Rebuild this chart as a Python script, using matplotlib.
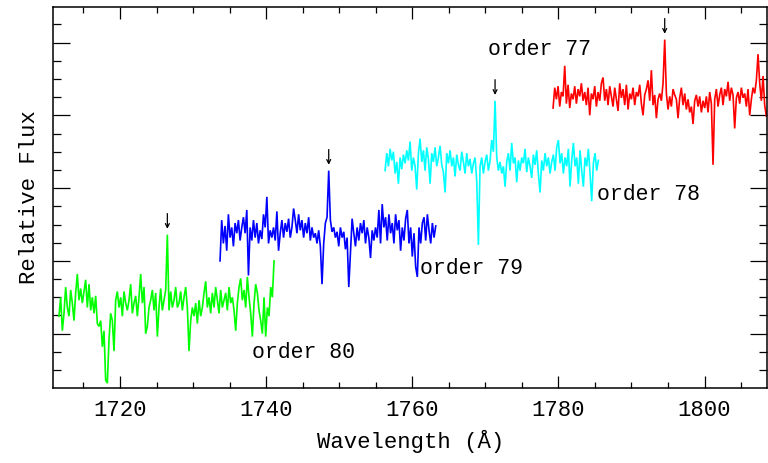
import numpy as np
import matplotlib
matplotlib.use("Agg")
import matplotlib.pyplot as plt
from matplotlib.ticker import MultipleLocator, NullFormatter

# ---------------- data ----------------
orders = ["order 80", "order 79", "order 78", "order 77"]
colors = ["#00ff00", "#0000ff", "#00ffff", "#ff0000"]

# wavelength range of each echelle order (Angstrom)
wl_start = [1711.65, 1733.69, 1756.28, 1779.27]
wl_end = [1741.08, 1763.21, 1785.47, 1808.69]

# vertical display offset of each order
offsets = [0.23, 0.71, 1.18, 1.63]

flux_80 = [0.89, 1.02, 0.79, 0.91, 1.09, 0.95, 0.89, 1.07, 0.98, 0.86,
           1.05, 1.18, 1.00, 1.08, 0.98, 1.06, 1.14, 0.95, 1.11, 0.93,
           1.02, 0.91, 1.03, 0.84, 0.82, 0.86, 0.68, 0.79, 0.45, 0.43,
           0.73, 0.91, 0.86, 0.65, 1.00, 1.06, 0.95, 1.02, 0.89, 1.06,
           0.98, 0.93, 1.00, 1.11, 0.91, 0.98, 1.03, 0.89, 1.02, 1.18,
           0.98, 1.09, 0.77, 0.82, 0.95, 1.00, 1.07, 0.93, 1.05, 0.75,
           0.95, 1.08, 0.93, 1.00, 1.07, 1.45, 0.93, 1.06, 0.95, 1.00,
           1.09, 0.95, 0.98, 1.06, 0.93, 1.02, 1.09, 0.95, 0.65, 0.86,
           0.95, 0.89, 0.98, 0.84, 1.00, 0.89, 0.95, 1.05, 1.13, 0.95,
           1.02, 0.91, 1.05, 0.95, 1.09, 1.00, 0.91, 1.07, 0.95, 1.00,
           1.05, 0.93, 1.09, 0.98, 1.02, 0.93, 0.79, 0.98, 1.09, 1.15,
           1.00, 1.07, 0.95, 1.16, 1.02, 0.91, 0.75, 0.98, 1.11, 1.05,
           0.93, 0.86, 0.77, 1.02, 0.75, 0.95, 0.89, 1.09, 1.02, 1.27]

flux_79 = [0.79, 1.07, 0.91, 1.03, 0.86, 1.11, 0.95, 1.02, 0.89, 1.05,
           0.98, 1.07, 0.93, 1.02, 1.09, 0.98, 1.14, 0.69, 1.02, 0.93,
           1.07, 0.95, 1.05, 0.91, 1.00, 0.94, 1.11, 1.02, 1.23, 0.91,
           1.00, 0.95, 1.02, 0.93, 1.13, 0.86, 0.98, 1.07, 0.95, 1.05,
           0.99, 1.08, 0.95, 1.02, 1.15, 1.07, 0.98, 1.11, 1.00, 1.07,
           0.95, 1.05, 0.98, 1.09, 0.93, 1.02, 0.95, 0.98, 0.91, 1.00,
           0.89, 0.63, 0.91, 1.05, 1.09, 1.41, 1.07, 0.99, 1.02, 0.95,
           0.99, 0.89, 1.02, 0.95, 0.99, 0.87, 0.95, 0.61, 0.84, 1.08,
           0.98, 0.89, 1.02, 0.93, 1.05, 0.98, 1.07, 0.91, 1.02, 0.95,
           0.81, 1.00, 0.93, 1.02, 0.95, 1.14, 0.91, 1.18, 1.02, 1.09,
           0.93, 1.11, 0.98, 1.05, 0.91, 1.11, 1.00, 1.07, 0.86, 1.02,
           0.93, 1.08, 1.14, 0.91, 1.02, 0.82, 0.98, 0.75, 0.68, 1.02,
           0.91, 1.05, 1.09, 0.93, 1.11, 1.00, 0.91, 1.05, 0.95, 1.03]

flux_78 = [0.94, 1.06, 0.97, 1.09, 1.01, 1.07, 0.92, 1.00, 0.85, 1.03,
           0.95, 1.05, 0.99, 1.08, 1.01, 1.14, 0.94, 1.03, 0.97, 0.81,
           1.06, 1.16, 1.00, 1.08, 0.94, 1.10, 1.02, 0.85, 1.06, 1.00,
           1.10, 0.97, 1.03, 1.11, 0.98, 0.93, 0.79, 1.06, 0.99, 1.08,
           0.97, 1.03, 0.90, 1.05, 0.98, 0.94, 1.07, 1.00, 0.92, 1.06,
           0.97, 1.02, 0.92, 0.99, 1.03, 0.87, 0.43, 0.97, 1.03, 0.92,
           1.00, 1.05, 0.94, 1.01, 1.15, 1.07, 1.42, 1.03, 0.94, 1.00,
           0.92, 0.97, 0.83, 1.00, 1.06, 0.94, 1.13, 0.99, 1.03, 0.86,
           1.01, 0.94, 1.03, 0.99, 1.09, 0.93, 1.03, 0.97, 0.89, 1.05,
           0.98, 1.08, 0.92, 0.79, 1.01, 0.94, 1.06, 0.97, 1.03, 0.92,
           1.00, 1.05, 0.94, 1.10, 1.15, 0.99, 1.06, 0.92, 1.03, 0.97,
           1.09, 0.83, 1.01, 1.13, 0.97, 1.03, 0.85, 1.08, 0.94, 0.83,
           1.03, 0.97, 1.09, 0.92, 0.73, 0.99, 1.06, 0.94, 1.01]

flux_77 = [0.92, 1.06, 0.98, 1.07, 0.93, 1.03, 1.00, 1.21, 0.95, 1.08,
           0.92, 1.02, 0.98, 1.07, 0.95, 1.05, 1.00, 1.09, 0.97, 1.03,
           0.94, 1.06, 0.87, 1.02, 0.98, 1.07, 0.93, 1.03, 0.97, 1.09,
           1.13, 0.97, 1.05, 0.94, 1.07, 1.00, 0.93, 1.06, 0.98, 0.90,
           1.09, 0.99, 1.05, 0.94, 1.08, 0.91, 1.02, 0.98, 1.06, 0.94,
           1.03, 1.00, 1.08, 0.95, 0.87, 1.01, 1.05, 1.11, 0.97, 1.18,
           0.94, 1.01, 0.85, 0.98, 1.02, 0.97, 1.09, 1.39, 1.02, 0.91,
           1.00, 0.93, 1.05, 1.01, 0.98, 0.85, 0.99, 1.06, 0.94, 1.02,
           0.91, 0.98, 0.89, 0.93, 0.81, 0.97, 1.01, 0.93, 1.00, 0.89,
           0.97, 0.92, 1.00, 0.89, 1.03, 0.95, 0.53, 0.98, 1.05, 0.93,
           1.01, 1.06, 0.94, 1.05, 1.00, 1.10, 0.97, 1.06, 1.01, 0.78,
           0.99, 1.03, 0.95, 1.06, 0.99, 1.02, 0.93, 1.05, 0.87, 0.98,
           1.06, 1.02, 1.11, 1.29, 1.09, 0.97, 1.14, 0.94, 0.86, 0.92]

fluxes = [flux_80, flux_79, flux_78, flux_77]

# emission features marked with arrows (wavelength of each marked peak)
arrow_wl = [1726.4, 1748.6, 1771.3, 1794.6]

# label anchor positions (wavelength, plotted flux)
label_x = [1738.1, 1761.1, 1785.3, 1770.4]
label_y = [0.874, 1.451, 1.953, 2.955]

xlim = (1710.87, 1808.55)
ylim = (0.627, 3.246)

# ---------------- figure ----------------
fig = plt.figure(figsize=(7.68, 4.63), dpi=100)
ax = fig.add_axes([0.0694, 0.162, 0.9293, 0.8235])

font = ["Liberation Mono", "DejaVu Sans Mono"]

for wl0, wl1, fl, off, col in zip(wl_start, wl_end, fluxes, offsets, colors):
    fl = np.asarray(fl)
    wl = np.linspace(wl0, wl1, len(fl))
    ax.plot(wl, fl + off, color=col, lw=1.2, solid_joinstyle="miter")

# arrows above the marked peaks
for k, (aw, fl, off, wl0, wl1) in enumerate(zip(arrow_wl, fluxes, offsets, wl_start, wl_end)):
    fl = np.asarray(fl)
    wl = np.linspace(wl0, wl1, len(fl))
    i = np.argmin(np.abs(wl - aw))
    peak = fl[max(i - 1, 0):i + 2].max() + off
    ax.annotate("", xy=(wl[i], peak + 0.04), xytext=(wl[i], peak + 0.145),
                arrowprops=dict(arrowstyle="->", color="black", lw=0.9,
                                mutation_scale=7, shrinkA=0, shrinkB=0))

for name, lx, ly in zip(orders, label_x, label_y):
    ax.text(lx, ly, name, ha="left", va="center", fontsize=15.5,
            family=font, color="black")

ax.set_xlim(*xlim)
ax.set_ylim(*ylim)

ax.xaxis.set_major_locator(MultipleLocator(20))
ax.xaxis.set_minor_locator(MultipleLocator(5))
ax.yaxis.set_major_locator(MultipleLocator(0.5))
ax.yaxis.set_minor_locator(MultipleLocator(0.125))
ax.yaxis.set_major_formatter(NullFormatter())
ax.yaxis.set_minor_formatter(NullFormatter())

ax.tick_params(axis="x", which="major", direction="in", length=8.5, width=0.9,
               top=True, bottom=True, labelsize=16, pad=9)
ax.tick_params(axis="x", which="minor", direction="in", length=4.3, width=0.9,
               top=True, bottom=True)
ax.tick_params(axis="y", which="major", direction="in", length=12, width=0.9,
               left=True, right=True, labelleft=False)
ax.tick_params(axis="y", which="minor", direction="in", length=6, width=0.9,
               left=True, right=True)
for lab in ax.get_xticklabels():
    lab.set_family(font)

for sp in ax.spines.values():
    sp.set_linewidth(1.1)

ax.set_xlabel("Wavelength (Å)", fontsize=16, family=font, labelpad=6)
ax.set_ylabel("Relative Flux", fontsize=16, family=font, labelpad=6)

fig.savefig("out.png", dpi=100)
